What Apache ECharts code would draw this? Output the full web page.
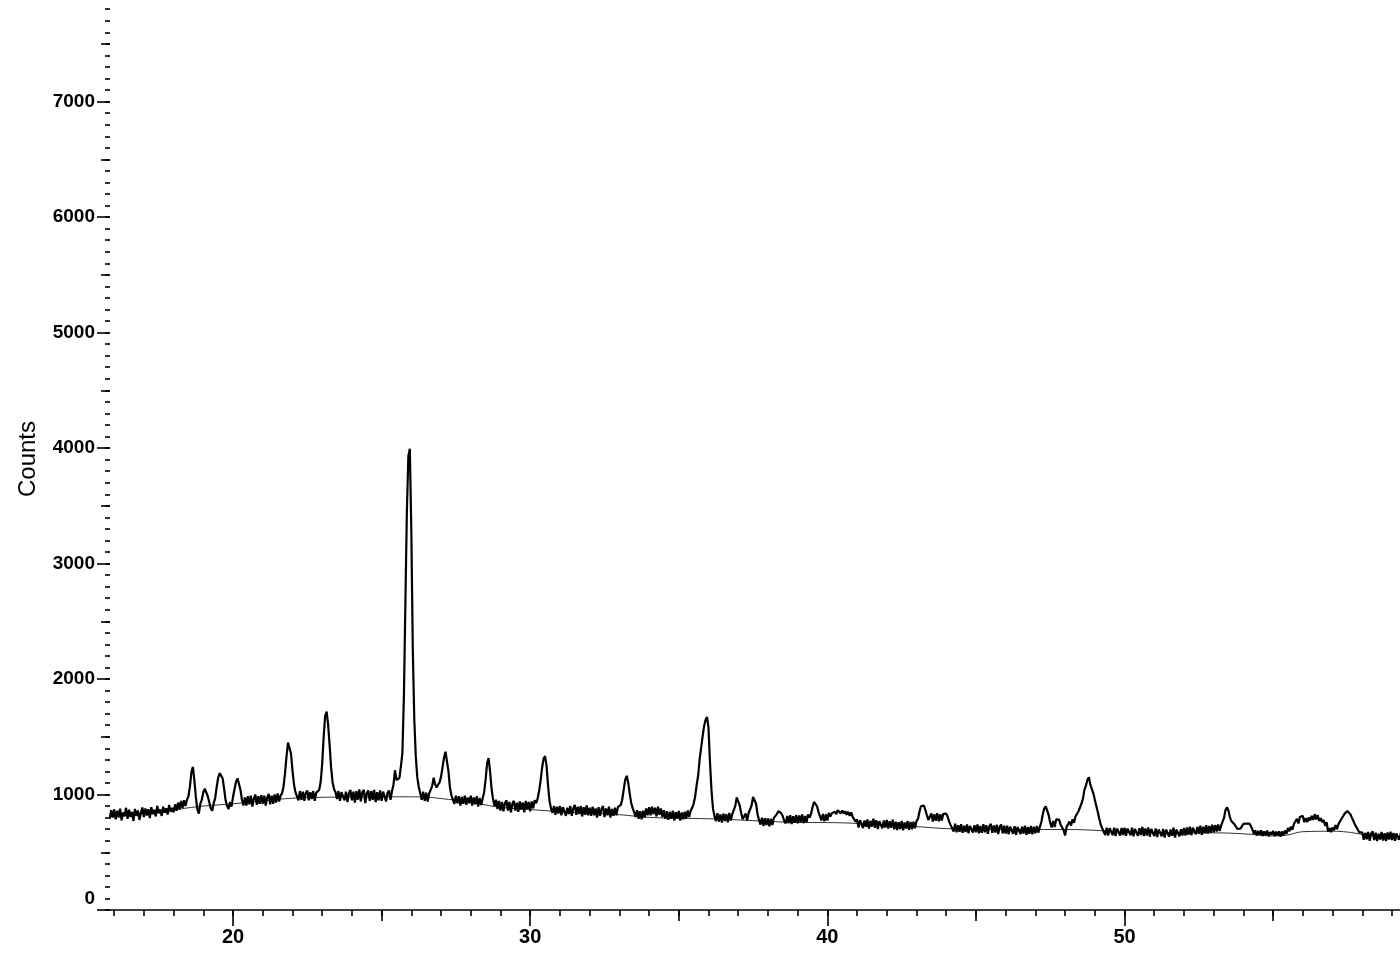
<!DOCTYPE html>
<html>
<head>
<meta charset="utf-8">
<script src="https://cdn.jsdelivr.net/npm/echarts@6/dist/echarts.min.js"></script>
<style>
html,body{margin:0;padding:0;background:#fff;}
#chart{width:1400px;height:967px;}
</style>
</head>
<body>
<div id="chart"></div>
<script>
// 2-theta sampling of the scan
const twoThetaStart = 15.85;
const twoThetaStep = 0.05;

const counts = [
  790, 865, 800,
  // 16
  872, 785, 860, 800, 878, 776, 845, 812, 885, 790, 868, 805, 850, 770, 875, 815, 862, 780, 840, 888,
  // 17
  805, 880, 818, 872, 795, 890, 830, 868, 810, 902, 838, 870, 815, 895, 842, 880, 826, 910, 850, 885,
  // 18
  845, 915, 860, 930, 870, 945, 885, 950, 900, 955, 985, 1070, 1195, 1240, 1120, 975, 870, 835, 920, 955,
  // 19
  1020, 1050, 1035, 985, 935, 880, 860, 925, 970, 1065, 1145, 1185, 1200, 1140, 1050, 950, 900, 875, 935, 895,
  // 20
  980, 1045, 1110, 1140, 1130, 1040, 955, 905, 975, 905, 985, 915, 990, 895, 965, 1000, 910, 985, 920, 995,
  // 21
  920, 990, 905, 975, 1005, 915, 990, 920, 1000, 930, 1010, 940, 990, 1010, 1070, 1185, 1330, 1450, 1465, 1355,
  // 22
  1210, 1090, 1020, 1010, 950, 1030, 955, 1025, 945, 1015, 1035, 950, 1020, 960, 1030, 945, 1015, 1025, 1040, 1110,
  // 23
  1265, 1500, 1680, 1718, 1605, 1430, 1235, 1105, 1045, 1020, 960, 1030, 945, 1020, 1035, 950, 1025, 935, 1010, 1040,
  // 24
  950, 1025, 930, 1030, 955, 1045, 940, 1020, 1040, 925, 1010, 1035, 945, 1030, 955, 1040, 935, 1020, 950, 1035,
  // 25
  945, 1025, 1040, 940, 1015, 1035, 955, 1030, 1085, 1210, 1125, 1110, 1145, 1245, 1360, 1850, 2650, 3450, 3930, 3995,
  // 26
  3280, 2250, 1650, 1330, 1150, 1065, 1010, 955, 1025, 945, 1015, 940, 1010, 1040, 1070, 1145, 1090, 1060, 1085, 1105,
  // 27
  1155, 1235, 1320, 1370, 1355, 1200, 1060, 990, 955, 920, 990, 925, 985, 905, 980, 920, 990, 910, 975, 925,
  // 28
  990, 905, 975, 915, 985, 895, 970, 910, 965, 1020, 1130, 1270, 1315, 1200, 1050, 960, 900, 955, 875, 945,
  // 29
  860, 935, 855, 925, 950, 860, 935, 845, 920, 945, 860, 930, 850, 940, 870, 930, 845, 945, 875, 935,
  // 30
  855, 940, 880, 950, 925, 965, 1030, 1120, 1230, 1310, 1332, 1250, 1080, 945, 880, 840, 900, 825, 895, 835,
  // 31
  900, 820, 890, 905, 815, 885, 830, 900, 815, 880, 910, 825, 895, 830, 900, 810, 890, 825, 905, 820,
  // 32
  885, 815, 895, 820, 880, 800, 890, 815, 875, 900, 805, 880, 820, 895, 800, 875, 815, 885, 820, 890,
  // 33
  875, 910, 960, 1050, 1130, 1162, 1100, 1005, 925, 880, 845, 805, 865, 790, 855, 785, 860, 800, 880, 820,
  // 34
  890, 820, 895, 830, 885, 810, 895, 825, 880, 805, 865, 790, 855, 780, 850, 790, 860, 775, 848, 792,
  // 35
  858, 775, 845, 785, 852, 790, 862, 805, 860, 885, 920, 980, 1080, 1160, 1300, 1400, 1500, 1590, 1645, 1672,
  // 36
  1580, 1280, 1040, 880, 815, 770, 838, 765, 828, 758, 835, 770, 830, 760, 840, 775, 830, 840, 900, 975,
  // 37
  982, 905, 840, 785, 770, 835, 775, 840, 845, 905, 980, 992, 920, 830, 780, 740, 800, 728, 795, 735,
  // 38
  792, 725, 790, 735, 798, 790, 830, 855, 862, 838, 812, 770, 750, 815, 752, 820, 745, 812, 755, 822,
  // 39
  750, 818, 760, 828, 752, 815, 760, 828, 800, 832, 890, 935, 942, 900, 850, 812, 775, 832, 768, 828,
  // 40
  775, 840, 810, 838, 822, 850, 830, 865, 880, 835, 862, 835, 855, 825, 850, 815, 845, 808, 825, 765,
  // 41
  785, 715, 778, 792, 710, 775, 720, 785, 705, 772, 722, 790, 712, 778, 700, 770, 785, 708, 775, 715,
  // 42
  780, 705, 768, 712, 782, 698, 765, 692, 760, 702, 772, 690, 758, 705, 770, 695, 762, 700, 765, 708,
  // 43
  770, 790, 850, 898, 912, 905, 865, 820, 780, 770, 835, 765, 830, 772, 838, 768, 828, 775, 832, 840,
  // 44
  835, 805, 765, 735, 745, 680, 748, 672, 735, 678, 742, 668, 730, 675, 740, 665, 728, 745, 670, 735,
  // 45
  672, 740, 665, 728, 668, 742, 672, 735, 660, 725, 745, 668, 732, 670, 738, 658, 722, 740, 665, 730,
  // 46
  662, 730, 655, 722, 738, 660, 725, 652, 718, 735, 658, 722, 662, 730, 650, 718, 660, 728, 655, 722,
  // 47
  665, 728, 670, 720, 760, 830, 880, 898, 882, 820, 752, 715, 770, 718, 785, 772, 782, 738, 735, 690,
  // 48
  645, 720, 708, 765, 730, 785, 755, 810, 800, 855, 872, 920, 962, 1040, 1075, 1125, 1150, 1085, 1075, 1010,
  // 49
  955, 900, 848, 790, 738, 708, 710, 650, 712, 645, 708, 720, 648, 712, 640, 705, 718, 645, 710, 650,
  // 50
  712, 642, 705, 722, 648, 712, 638, 702, 718, 642, 708, 650, 720, 640, 705, 645, 715, 635, 702, 712,
  // 51
  640, 705, 632, 698, 712, 638, 702, 628, 695, 708, 635, 698, 642, 712, 628, 695, 705, 638, 700, 645,
  // 52
  710, 645, 715, 652, 722, 648, 712, 728, 655, 720, 660, 730, 652, 722, 665, 735, 662, 728, 668, 738,
  // 53
  672, 735, 680, 740, 685, 730, 745, 800, 868, 888, 858, 800, 768, 755, 742, 720, 702, 695, 705, 722,
  // 54
  745, 758, 748, 738, 748, 728, 700, 660, 690, 645, 685, 650, 690, 642, 680, 648, 688, 638, 675, 652,
  // 55
  685, 640, 678, 645, 682, 635, 680, 648, 688, 660, 710, 682, 722, 695, 745, 740, 790, 750, 805, 790,
  // 56
  815, 760, 795, 762, 800, 775, 815, 780, 830, 785, 822, 770, 795, 760, 780, 730, 760, 680, 710, 675,
  // 57
  715, 690, 735, 700, 745, 760, 790, 810, 832, 845, 856, 848, 830, 800, 772, 742, 718, 695, 672, 655,
  // 58
  672, 608, 668, 612, 675, 600, 662, 680, 605, 670, 598, 660, 610, 675, 602, 665, 598, 672, 610, 678,
  // 59
  605, 668, 600, 662, 678, 608, 670
];

// Fitted background (thin line) knots
const backgroundTheta  = [15.85, 17, 18, 19, 20, 21, 22, 23, 24, 25, 26, 26.5, 27, 27.5, 28, 28.5, 29, 30, 31, 32, 33, 34, 35, 36, 37, 38, 39, 40, 41, 42, 43, 44, 45, 46, 47, 48, 49, 50, 51, 52, 53, 54, 55, 55.5, 56, 57, 57.5, 58, 59.3];
const backgroundCounts = [810, 835, 868, 900, 920, 945, 968, 976, 978, 980, 980, 978, 965, 950, 930, 910, 888, 870, 852, 838, 825, 802, 795, 790, 780, 768, 758, 757, 750, 735, 722, 705, 700, 697, 697, 697, 690, 672, 668, 668, 668, 660, 642, 650, 678, 682, 675, 655, 610];

// Axis ticks and labels
const xLabelTicks = [20, 30, 40, 50];
const xMidTicks = [25, 35, 45, 55];
const xMinorTicks = [16, 17, 18, 19, 20, 21, 22, 23, 24, 25, 26, 27, 28, 29, 30, 31, 32, 33, 34, 35, 36, 37, 38, 39, 40, 41, 42, 43, 44, 45, 46, 47, 48, 49, 50, 51, 52, 53, 54, 55, 56, 57, 58, 59];
const yLabelTicks = [0, 1000, 2000, 3000, 4000, 5000, 6000, 7000];
const yMidTicks = [500, 1500, 2500, 3500, 4500, 5500, 6500, 7500];
const yMinorTicks = [0, 100, 200, 300, 400, 500, 600, 700, 800, 900, 1000, 1100, 1200, 1300, 1400, 1500, 1600, 1700, 1800, 1900,
  2000, 2100, 2200, 2300, 2400, 2500, 2600, 2700, 2800, 2900, 3000, 3100, 3200, 3300, 3400, 3500, 3600, 3700, 3800, 3900,
  4000, 4100, 4200, 4300, 4400, 4500, 4600, 4700, 4800, 4900, 5000, 5100, 5200, 5300, 5400, 5500, 5600, 5700, 5800, 5900,
  6000, 6100, 6200, 6300, 6400, 6500, 6600, 6700, 6800, 6900, 7000, 7100, 7200, 7300, 7400, 7500, 7600, 7700, 7800];
const yAxisTitle = 'Counts';

const X_MIN = 15.86, X_MAX = 59.27, Y_MIN = 0, Y_MAX = 7880;
const FONT = 'Liberation Sans, Arial, sans-serif';

const scanData = counts.map((c, i) => [+(twoThetaStart + i * twoThetaStep).toFixed(2), c]);
const bgData = backgroundTheta.map((t, i) => [t, backgroundCounts[i]]);

function xAx(ticks, len, withLine, labels) {
  return {
    type: 'value', min: X_MIN, max: X_MAX, position: 'bottom',
    axisLine: { show: withLine, onZero: false, lineStyle: { color: '#000', width: 1.6 } },
    axisTick: { show: true, inside: false, length: len, customValues: ticks, lineStyle: { color: '#000', width: 1.6 } },
    axisLabel: labels ? { show: true, customValues: labels, margin: 17, color: '#000', fontSize: 20, fontWeight: 'bold', fontFamily: FONT } : { show: false },
    splitLine: { show: false }
  };
}
function yAx(ticks, len, labels, name) {
  const ax = {
    type: 'value', min: Y_MIN, max: Y_MAX, position: 'left',
    axisLine: { show: false },
    axisTick: { show: true, inside: false, length: len, customValues: ticks, lineStyle: { color: '#000', width: 1.6 } },
    axisLabel: labels ? {
      show: true, customValues: labels, margin: 15, color: '#000', fontSize: 19, fontWeight: 'bold', fontFamily: FONT,
      formatter: v => v === 0 ? '{z|0}' : String(v),
      rich: { z: { fontSize: 19, fontWeight: 'bold', fontFamily: FONT, color: '#000', padding: [0, 0, 22, 0] } }
    } : { show: false },
    splitLine: { show: false }
  };
  if (name) {
    ax.name = name; ax.nameLocation = 'middle'; ax.nameGap = 70; ax.nameRotate = 90;
    ax.nameTextStyle = { color: '#000', fontSize: 24, fontFamily: FONT, padding: [0, 8, 0, 0] };
  }
  return ax;
}

const chart = echarts.init(document.getElementById('chart'), null, { renderer: 'canvas' });
chart.setOption({
  animation: false,
  backgroundColor: '#fff',
  grid: { left: 110, right: 0, top: 0, bottom: 57, containLabel: false },
  xAxis: [
    xAx(xMinorTicks, 6, true, null),
    xAx(xMidTicks, 11, false, null),
    xAx(xLabelTicks, 16, false, xLabelTicks)
  ],
  yAxis: [
    yAx(yMinorTicks, 5, null, null),
    yAx(yMidTicks, 9, null, null),
    yAx(yLabelTicks, 13, yLabelTicks, yAxisTitle)
  ],
  series: [
    {
      name: 'Background', type: 'line', xAxisIndex: 0, yAxisIndex: 0,
      data: bgData, smooth: 0.4, showSymbol: false, z: 1,
      lineStyle: { color: '#333', width: 1 }
    },
    {
      name: 'Scan', type: 'line', xAxisIndex: 0, yAxisIndex: 0,
      data: scanData, showSymbol: false, z: 2,
      lineStyle: { color: '#000', width: 2.2 }
    }
  ]
});
</script>
</body>
</html>
